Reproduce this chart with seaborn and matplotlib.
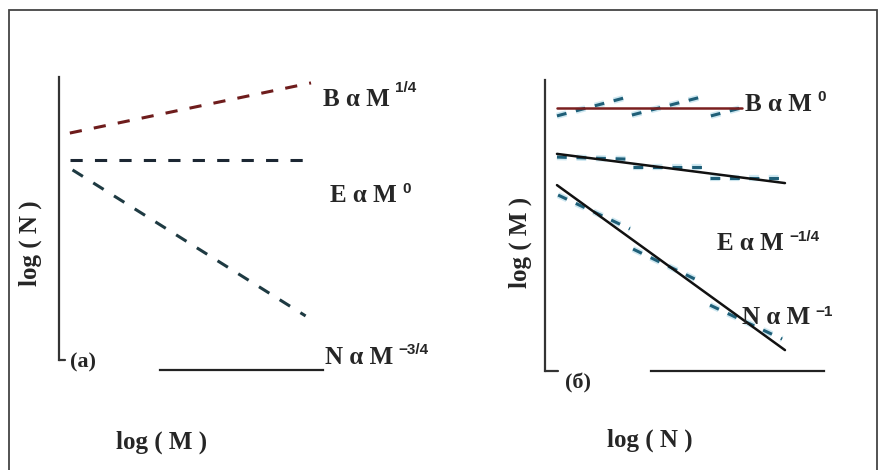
import numpy as np
import pandas as pd
import seaborn as sns
import matplotlib.pyplot as plt
import matplotlib.patheffects as pe
from matplotlib.patches import Rectangle

# panel (a): schematic scaling lines (axes units 0..1)
a_B_logM = [0.04, 0.93]
a_B = [0.81, 0.98]
a_E_logM = [0.04, 0.935]
a_E = [0.72, 0.72]
a_N_logM = [0.05, 0.91]
a_N = [0.685, 0.19]

# panel (б): fitted lines
b_B_logN = [0.042, 0.691]
b_B = [0.904, 0.904]
b_E_logN = [0.042, 0.842]
b_E = [0.747, 0.647]
b_N_logN = [0.042, 0.842]
b_N = [0.640, 0.075]

# panel (б): observed values, three runs per group
b_runs = [0, 0, 1, 1, 2, 2]
b_Bobs_logN = [0.042, 0.291, 0.305, 0.561, 0.582, 0.702]
b_Bobs = [0.877, 0.942, 0.880, 0.945, 0.877, 0.908]
b_Eobs_logN = [0.042, 0.291, 0.309, 0.561, 0.579, 0.842]
b_Eobs = [0.736, 0.729, 0.702, 0.702, 0.664, 0.664]
b_Nobs_logN = [0.046, 0.298, 0.309, 0.554, 0.579, 0.832]
b_Nobs = [0.606, 0.490, 0.421, 0.305, 0.229, 0.113]

sns.set_style("white")
plt.rcParams['font.family'] = ['Liberation Serif', 'DejaVu Serif']

W, H = 881, 470
fig = plt.figure(figsize=(W / 100, H / 100), dpi=100)


def px_box(left, top, right, bottom):
    return [left / W, 1 - bottom / H, (right - left) / W, (bottom - top) / H]


ax_a = fig.add_axes(px_box(59, 77, 330, 372))
ax_b = fig.add_axes(px_box(545, 80, 830, 372))

dash = (0, (4, 4))

# (a) dashed scaling lines
sns.lineplot(x=a_B_logM, y=a_B, ax=ax_a, color='#6e1c1c', lw=2.2, linestyle=dash)
sns.lineplot(x=a_E_logM, y=a_E, ax=ax_a, color='#1c2733', lw=2.2, linestyle=dash)
sns.lineplot(x=a_N_logM, y=a_N, ax=ax_a, color='#1e3a42', lw=2.2, linestyle=dash)

# (б) observed dashed runs
halo = [pe.withStroke(linewidth=4.5, foreground='#cfe8f1')]
for xs, ys in [(b_Bobs_logN, b_Bobs), (b_Eobs_logN, b_Eobs), (b_Nobs_logN, b_Nobs)]:
    df = pd.DataFrame({'logN': xs, 'v': ys, 'run': b_runs})
    sns.lineplot(data=df, x='logN', y='v', units='run', estimator=None, ax=ax_b,
                 color='#1f5f78', lw=2.2, linestyle=(0, (3.2, 3.2)), path_effects=halo)

# (б) fitted solid lines
sns.lineplot(x=b_B_logN, y=b_B, ax=ax_b, color='#7a1f1f', lw=1.8)
sns.lineplot(x=b_E_logN, y=b_E, ax=ax_b, color='#111111', lw=1.8)
sns.lineplot(x=b_N_logN, y=b_N, ax=ax_b, color='#111111', lw=1.8)

# axes frames
for ax, lb, yb, xb, corner in [(ax_a, (0.041, 1.0), 0.007, (0.373, 0.974), 0.022),
                               (ax_b, (0.003, 1.0), 0.003, (0.372, 0.979), 0.046)]:
    ax.set_xlim(0, 1)
    ax.set_ylim(0, 1)
    ax.set(xlabel='', ylabel='', xticks=[], yticks=[])
    ax.patch.set_alpha(0)
    ax.spines['top'].set_visible(False)
    ax.spines['right'].set_visible(False)
    ax.spines['left'].set_bounds(*lb)
    ax.spines['left'].set_color('#333333')
    ax.spines['left'].set_linewidth(1.6)
    ax.spines['bottom'].set_position(('data', yb))
    ax.spines['bottom'].set_bounds(*xb)
    ax.spines['bottom'].set_color('#222222')
    ax.spines['bottom'].set_linewidth(1.6)
    ax.plot([0, corner], [lb[0], lb[0]], color='#333333', lw=1.6,
            transform=ax.transAxes, clip_on=False)


def px_text(x, y, s, **kw):
    kw.setdefault('fontsize', 18)
    kw.setdefault('fontweight', 'bold')
    kw.setdefault('va', 'center')
    kw.setdefault('ha', 'left')
    return fig.text(x / W, 1 - y / H, s, **kw)


def law(x, y, main, sup, lift=0.78):
    t = px_text(x, y, main)
    ax_a.annotate(sup, xy=(1, lift), xycoords=t, xytext=(4, 0), textcoords='offset points',
                  va='center', ha='left', fontsize=11, fontweight='bold',
                  family=['Liberation Sans', 'DejaVu Sans'], annotation_clip=False)


law(323, 100, 'B \u03b1 M', '1/4', lift=1.0)
law(330, 196, 'E \u03b1 M', '0', lift=0.8)
law(325, 357, 'N \u03b1 M', '\u22123/4', lift=0.8)
law(745, 105, 'B \u03b1 M', '0', lift=0.85)
law(717, 243, 'E \u03b1 M', '\u22121/4', lift=0.75)
law(742, 318, 'N \u03b1 M', '\u22121', lift=0.75)

px_text(70, 362, '(a)', fontsize=16)
px_text(565, 383, '(\u0431)', fontsize=16)
px_text(162, 442, 'log ( M )', ha='center')
px_text(650, 440, 'log ( N )', ha='center')
px_text(30, 243, 'log ( N )', ha='center', rotation=90)
px_text(520, 242, 'log ( M )', ha='center', rotation=90)

fig.add_artist(Rectangle((9 / W, -0.1), (877 - 9) / W, 1.1 - 10 / H,
                         transform=fig.transFigure, fill=False, ec='#444444', lw=1.3))

fig.savefig('out.png', dpi=100)
